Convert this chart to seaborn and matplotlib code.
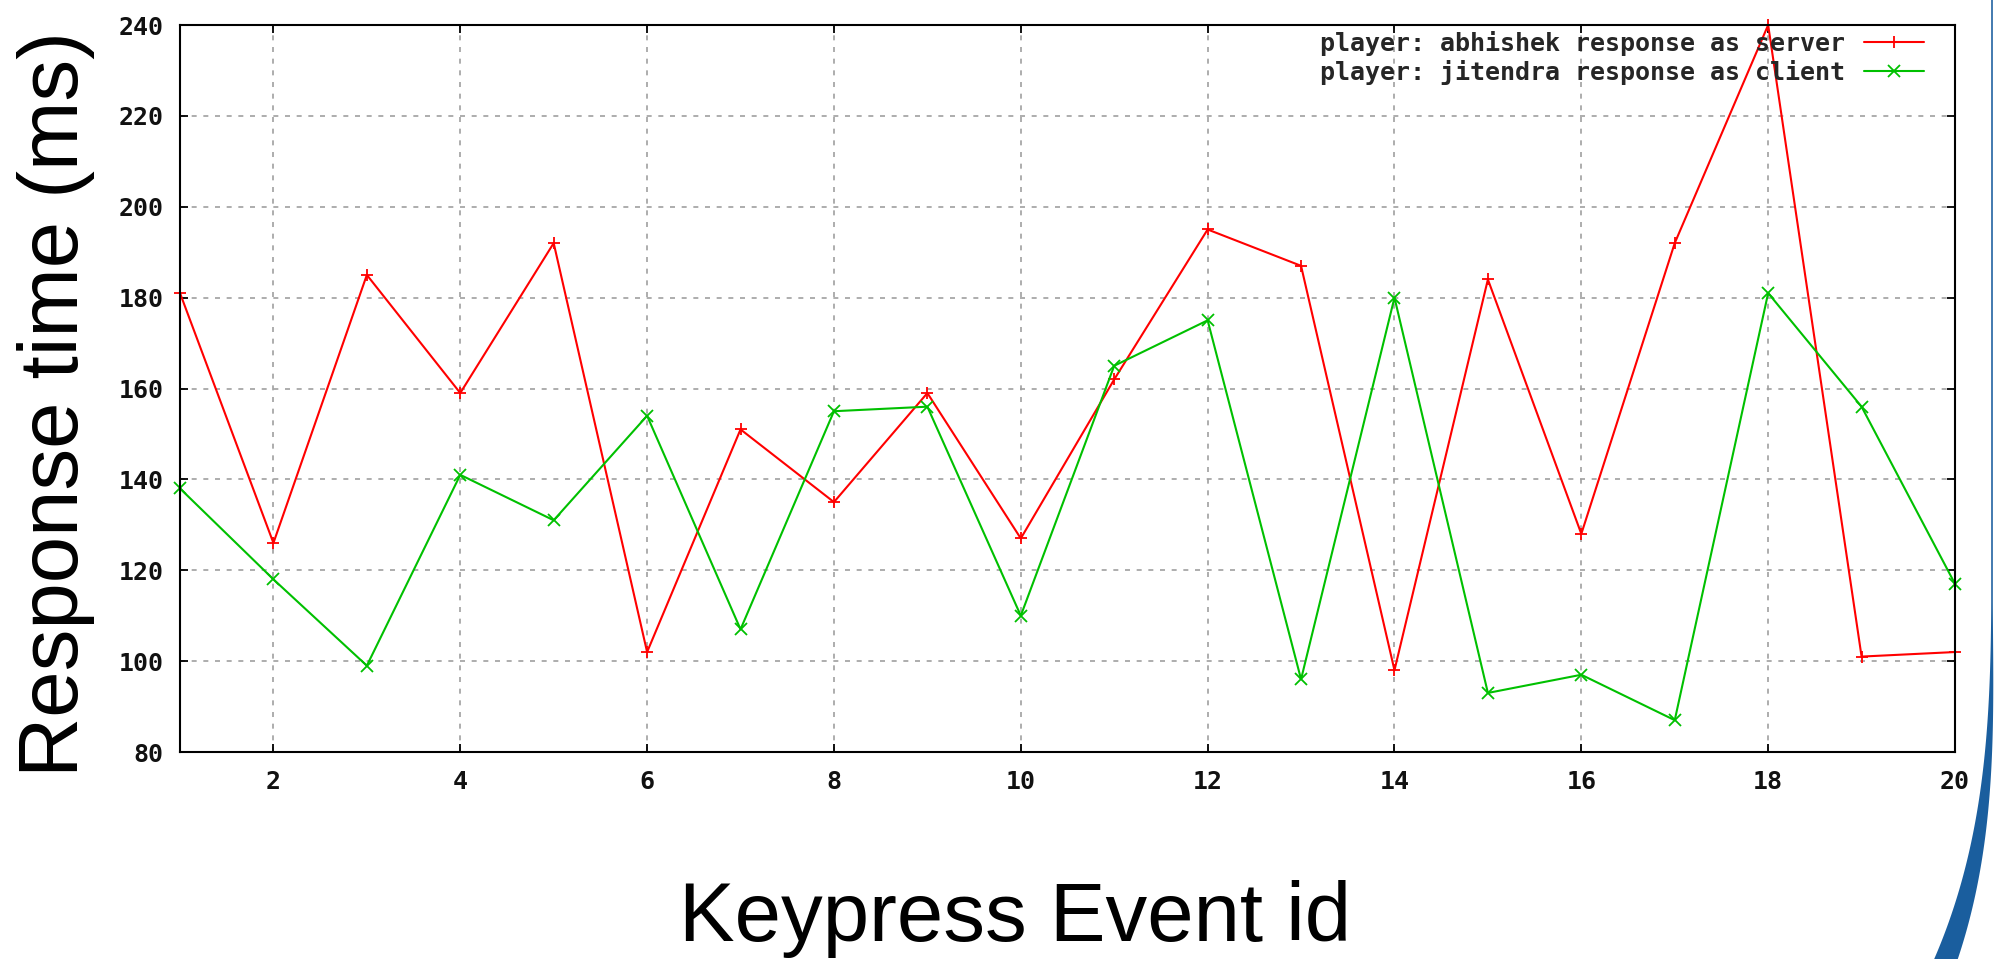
import numpy as np
import pandas as pd
import matplotlib
matplotlib.use("Agg")
import matplotlib.pyplot as plt
from matplotlib.patches import Polygon
import seaborn as sns

# Dados
event_id = list(range(1, 21))
server_ms = [181, 126, 185, 159, 192, 102, 151, 135, 159, 127,
             162, 195, 187, 98, 184, 128, 192, 240, 101, 102]
client_ms = [138, 118, 99, 141, 131, 154, 107, 155, 156, 110,
             165, 175, 96, 180, 93, 97, 87, 181, 156, 117]
labels = ["player: abhishek response as server",
          "player: jitendra response as client"]
x_ticks = list(range(2, 21, 2))
y_ticks = list(range(80, 241, 20))

RED = "#ff0000"
GREEN = "#00c000"
TICK_FONT = "DejaVu Sans Mono"

sns.set_theme(style="white")
plt.rcParams["font.family"] = ["Liberation Sans", "DejaVu Sans"]

W, H = 1994, 959
fig = plt.figure(figsize=(W / 100, H / 100), dpi=100)
ax = fig.add_axes([180 / W, 1 - 752 / H, (1955 - 180) / W, (752 - 25) / H])

df = pd.DataFrame({"event": event_id, "server": server_ms, "client": client_ms})

sns.lineplot(data=df, x="event", y="server", ax=ax, color=RED, marker="+",
             markersize=9, linewidth=1.5, label=labels[0], clip_on=False)
sns.lineplot(data=df, x="event", y="client", ax=ax, color=GREEN, marker="x",
             markersize=8, linewidth=1.5, label=labels[1], clip_on=False)

for ln in ax.lines:
    ln.set_markeredgecolor(ln.get_color())
    ln.set_markeredgewidth(1.3)

ax.set_xlim(1, 20)
ax.set_ylim(80, 240)
ax.set_xticks(x_ticks)
ax.set_yticks(y_ticks)
ax.set_xlabel("")
ax.set_ylabel("")

ax.grid(True, color="#a0a0a0", linestyle=(0, (3, 4)), linewidth=1.2)
ax.set_axisbelow(True)
for sp in ax.spines.values():
    sp.set_visible(True)
    sp.set_color("black")
    sp.set_linewidth(1.5)

ax.tick_params(axis="both", which="major", direction="in", length=6,
               width=1.3, color="black", top=True, right=True,
               bottom=True, left=True)
ax.tick_params(axis="y", pad=12)
ax.tick_params(axis="x", pad=13)
for lab in ax.get_xticklabels() + ax.get_yticklabels():
    lab.set_fontfamily(TICK_FONT)
    lab.set_fontweight("bold")
    lab.set_fontsize(18)
    lab.set_color("#111111")

leg = ax.legend(loc="upper right", bbox_to_anchor=((1924 - 180) / 1775, 0.992),
                frameon=False, markerfirst=False, numpoints=1,
                handlelength=2.4, handletextpad=0.75, labelspacing=0.17,
                borderpad=0, borderaxespad=0,
                prop={"family": TICK_FONT, "weight": "bold", "size": 18})

# Rótulos dos eixos
fig.text(78 / W, 1 - 777 / H, "Response time (ms)", rotation=90,
         rotation_mode="anchor", ha="left", va="baseline", fontsize=60,
         color="black")
fig.text(1015 / W, 1 - 941 / H, "Keypress Event id", ha="center",
         va="baseline", fontsize=60, color="black")

# Curva azul decorativa à direita (fundo do slide)
yy = np.linspace(0, H, 240)
t = np.clip((yy - 600) / (H - 600), 0, 1)
cx = 1992 - 46 * t ** 3.0
hw = 0.8 + 11 * t ** 1.6
pts = np.vstack([np.column_stack([cx - hw, H - yy]),
                 np.column_stack([cx + hw, H - yy])[::-1]])
fig.add_artist(Polygon(pts / [W, H], closed=True, transform=fig.transFigure,
                       facecolor="#1a5e9e", edgecolor="none"))

fig.savefig("out.png", dpi=100)
